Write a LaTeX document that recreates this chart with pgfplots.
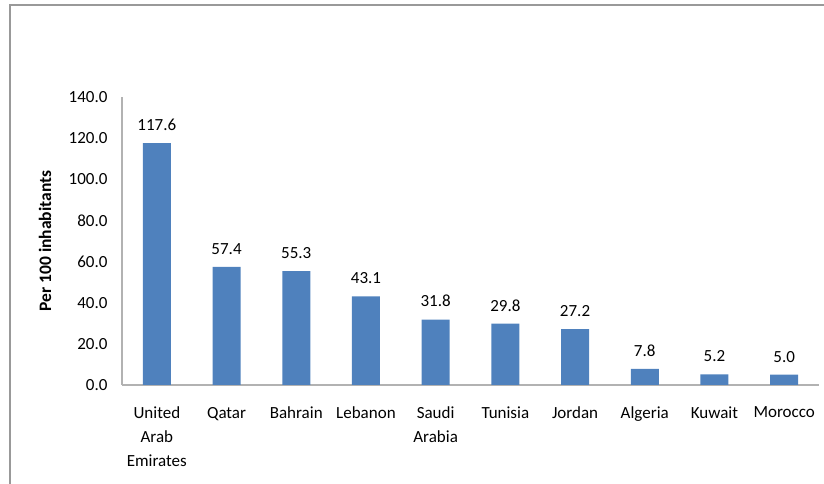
\documentclass[border=0pt]{standalone}
\usepackage{fontspec}
\setmainfont{Carlito}
\usepackage{pgfplots}
\pgfplotsset{compat=1.18}
\definecolor{barblue}{HTML}{4F81BD}
\begin{document}
\begin{tikzpicture}[x=1pt,y=1pt]
\useasboundingbox (0,0) rectangle (824,484);
\draw[color=black!40, line width=1.5pt] (10,0) -- (10,479) -- (824,479);
\begin{axis}[
  at={(122pt,99pt)}, anchor=south west,
  scale only axis, width=697pt, height=288pt,
  xmin=-0.5, xmax=9.5, ymin=0, ymax=140,
  axis x line*=bottom, axis y line*=left,
  axis line style={-, black!30, line width=1.2pt},
  major tick length=0pt,
  ytick={0,20,...,140},
  xtick={0,...,9},
  xticklabels={{United\\Arab\\Emirates},Qatar,Bahrain,Lebanon,{Saudi\\Arabia},Tunisia,Jordan,Algeria,Kuwait,Morocco},
  /pgf/number format/assume math mode=true,
  tick label style={font=\fontsize{17}{24}\selectfont, text=black},
  xticklabel style={align=center, yshift=-18.5pt},
  yticklabel style={xshift=-11pt, /pgf/number format/.cd, fixed, fixed zerofill, precision=1},
  ylabel={\bfseries Per 100 inhabitants},
  every axis y label/.style={at={(axis description cs:0,0.5)}, rotate=90, anchor=center, yshift=77pt, font=\fontsize{17.5}{20}\selectfont},
  ybar, bar width=28pt,
  nodes near coords,
  nodes near coords style={font=\fontsize{17}{20}\selectfont, text=black, yshift=9pt, /pgf/number format/.cd, fixed, fixed zerofill, precision=1, assume math mode=true},
]
\addplot[fill=barblue, draw=none] coordinates {
(0,117.6) (1,57.4) (2,55.3) (3,43.1) (4,31.8) (5,29.8) (6,27.2) (7,7.8) (8,5.2) (9,5.0)};
\end{axis}
\end{tikzpicture}
\end{document}
